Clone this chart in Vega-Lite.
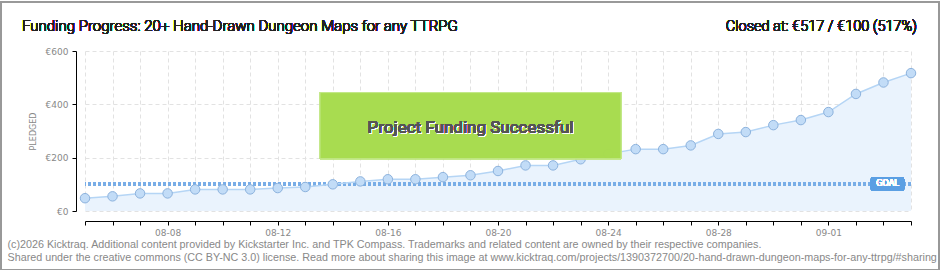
{
  "$schema": "https://vega.github.io/schema/vega-lite/v6.json",
  "width": 826,
  "height": 160,
  "padding": 0,
  "background": "white",
  "config": {
    "view": {"stroke": null},
    "font": "Roboto",
    "axis": {
      "domainColor": "#000000",
      "tickColor": "#000000",
      "tickSize": 4,
      "labelFont": "DejaVu Sans",
      "labelFontSize": 9,
      "labelColor": "#888888",
      "gridColor": "#e2e2e2",
      "gridDash": [4, 3]
    }
  },
  "data": {
    "values": [
      {"date": "2025-08-05", "pledged": 48},
      {"date": "2025-08-06", "pledged": 55},
      {"date": "2025-08-07", "pledged": 66},
      {"date": "2025-08-08", "pledged": 66},
      {"date": "2025-08-09", "pledged": 81},
      {"date": "2025-08-10", "pledged": 81},
      {"date": "2025-08-11", "pledged": 81},
      {"date": "2025-08-12", "pledged": 86},
      {"date": "2025-08-13", "pledged": 90},
      {"date": "2025-08-14", "pledged": 100},
      {"date": "2025-08-15", "pledged": 111},
      {"date": "2025-08-16", "pledged": 119},
      {"date": "2025-08-17", "pledged": 119},
      {"date": "2025-08-18", "pledged": 127},
      {"date": "2025-08-19", "pledged": 134},
      {"date": "2025-08-20", "pledged": 150},
      {"date": "2025-08-21", "pledged": 171},
      {"date": "2025-08-22", "pledged": 171},
      {"date": "2025-08-23", "pledged": 194},
      {"date": "2025-08-24", "pledged": 214},
      {"date": "2025-08-25", "pledged": 232},
      {"date": "2025-08-26", "pledged": 232},
      {"date": "2025-08-27", "pledged": 246},
      {"date": "2025-08-28", "pledged": 289},
      {"date": "2025-08-29", "pledged": 296},
      {"date": "2025-08-30", "pledged": 322},
      {"date": "2025-08-31", "pledged": 341},
      {"date": "2025-09-01", "pledged": 371},
      {"date": "2025-09-02", "pledged": 439},
      {"date": "2025-09-03", "pledged": 482},
      {"date": "2025-09-04", "pledged": 517}
    ]
  },
  "layer": [
    {
      "mark": {"type": "area", "color": "#eaf3fd", "opacity": 1},
      "encoding": {
        "x": {
          "field": "date",
          "type": "temporal",
          "scale": {
            "type": "utc",
            "domain": [
              {"year": 2025, "month": 8, "date": 5, "utc": true},
              {"year": 2025, "month": 9, "date": 4, "utc": true}
            ],
            "nice": false
          },
          "axis": {
            "offset": 10,
            "tickCount": {"interval": "day", "step": 1},
            "labelExpr": "indexof(['08-08','08-12','08-16','08-20','08-24','08-28','09-01'], utcFormat(datum.value, '%m-%d')) >= 0 ? utcFormat(datum.value, '%m-%d') : ''",
            "labelPadding": 3,
            "labelOverlap": false,
            "labelFlush": false,
            "title": [
              "(c)2026 Kicktraq. Additional content provided by Kickstarter Inc. and TPK Compass. Trademarks and related content are owned by their respective companies.",
              "Shared under the creative commons (CC BY-NC 3.0) license. Read more about sharing this image at www.kicktraq.com/projects/1390372700/20-hand-drawn-dungeon-maps-for-any-ttrpg/#sharing"
            ],
            "titleFont": "Liberation Sans",
            "titleFontSize": 10.75,
            "titleFontWeight": "normal",
            "titleColor": "#888",
            "titleAlign": "left",
            "titleAnchor": "start",
            "titleBaseline": "alphabetic",
            "titleLineHeight": 13,
            "titleX": -78,
            "titleY": 26
          }
        },
        "y": {
          "field": "pledged",
          "type": "quantitative",
          "scale": {"domain": [0, 600], "nice": false},
          "axis": {
            "offset": 9,
            "values": [0, 50, 100, 150, 200, 250, 300, 350, 400, 450, 500, 550, 600],
            "labelExpr": "datum.value % 100 == 0 ? '€' + datum.value : ''",
            "labelOverlap": false,
            "labelPadding": 4,
            "tickColor": {"condition": {"test": "datum.value % 100 != 0", "value": "#e00000"}, "value": "#000000"},
            "gridOpacity": {"condition": {"test": "datum.value % 100 != 0", "value": 0}, "value": 1},
            "title": "PLEDGED",
            "titleFont": "DejaVu Sans",
            "titleFontSize": 8,
            "titleFontWeight": "normal",
            "titleColor": "#888",
            "titlePadding": 8
          }
        }
      }
    },
    {
      "mark": {"type": "rule", "color": "#78ade6", "strokeWidth": 3, "strokeDash": [3, 2]},
      "encoding": {
        "y": {"datum": 100, "type": "quantitative"}
      }
    },
    {
      "mark": {"type": "line", "color": "#b5d5f5", "strokeWidth": 1.5},
      "encoding": {
        "x": {"field": "date", "type": "temporal"},
        "y": {"field": "pledged", "type": "quantitative"}
      }
    },
    {
      "mark": {"type": "point", "filled": true, "fill": "#c2dcf7", "stroke": "#8cb2dd", "strokeWidth": 1, "size": 90, "opacity": 1},
      "encoding": {
        "x": {"field": "date", "type": "temporal"},
        "y": {"field": "pledged", "type": "quantitative"}
      }
    },
    {
      "mark": {"type": "rect", "fill": "#a8dc50", "stroke": "#c4e88c", "strokeWidth": 1, "opacity": 0.93},
      "encoding": {
        "x": {"datum": {"year": 2025, "month": 8, "date": 13, "hours": 12, "minutes": 50, "utc": true}, "type": "temporal"},
        "x2": {"datum": {"year": 2025, "month": 8, "date": 24, "hours": 11, "minutes": 15, "utc": true}},
        "y": {"datum": 444, "type": "quantitative"},
        "y2": {"datum": 196}
      }
    },
    {
      "mark": {"type": "text", "text": "Project Funding Successful", "font": "Roboto", "fontSize": 17, "color": "#ffffff", "align": "center", "baseline": "middle", "dx": 1, "dy": 1},
      "encoding": {
        "x": {"datum": {"year": 2025, "month": 8, "date": 19, "utc": true}, "type": "temporal"},
        "y": {"datum": 311, "type": "quantitative"}
      }
    },
    {
      "mark": {"type": "text", "text": "Project Funding Successful", "font": "Roboto", "fontSize": 17, "color": "#555555", "align": "center", "baseline": "middle"},
      "encoding": {
        "x": {"datum": {"year": 2025, "month": 8, "date": 19, "utc": true}, "type": "temporal"},
        "y": {"datum": 311, "type": "quantitative"}
      }
    },
    {
      "mark": {"type": "rect", "fill": "#5b9fe3", "cornerRadius": 2},
      "encoding": {
        "x": {"datum": {"year": 2025, "month": 9, "date": 2, "hours": 13, "utc": true}, "type": "temporal"},
        "x2": {"datum": {"year": 2025, "month": 9, "date": 3, "hours": 18, "utc": true}},
        "y": {"datum": 127, "type": "quantitative"},
        "y2": {"datum": 75}
      }
    },
    {
      "mark": {"type": "text", "text": "GOAL", "font": "DejaVu Sans", "fontSize": 8, "color": "#ffffff", "align": "center", "baseline": "middle"},
      "encoding": {
        "x": {"datum": {"year": 2025, "month": 9, "date": 3, "hours": 3, "minutes": 30, "utc": true}, "type": "temporal"},
        "y": {"datum": 101, "type": "quantitative"}
      }
    },
    {
      "mark": {"type": "text", "text": "Funding Progress: 20+ Hand-Drawn Dungeon Maps for any TTRPG", "font": "Roboto", "fontSize": 15, "fontWeight": 300, "color": "#222", "align": "left", "baseline": "alphabetic"},
      "encoding": {
        "x": {"datum": {"year": 2025, "month": 8, "date": 2, "hours": 17, "minutes": 5, "utc": true}, "type": "temporal"},
        "y": {"datum": 675, "type": "quantitative"}
      }
    },
    {
      "mark": {"type": "text", "text": "Closed at:  €517 / €100 (517%)", "font": "Roboto", "fontSize": 14.5, "fontWeight": 300, "color": "#222", "align": "right", "baseline": "alphabetic"},
      "encoding": {
        "x": {"datum": {"year": 2025, "month": 9, "date": 4, "hours": 5, "minutes": 14, "utc": true}, "type": "temporal"},
        "y": {"datum": 675, "type": "quantitative"}
      }
    },
    {
      "mark": {"type": "rect", "filled": false, "stroke": "#999999", "strokeWidth": 1.5},
      "encoding": {
        "x": {"datum": {"year": 2025, "month": 8, "date": 1, "hours": 22, "minutes": 34, "utc": true}, "type": "temporal"},
        "x2": {"datum": {"year": 2025, "month": 9, "date": 5, "hours": 0, "minutes": 37, "utc": true}},
        "y": {"datum": 784.7, "type": "quantitative"},
        "y2": {"datum": -222.2}
      }
    }
  ]
}
